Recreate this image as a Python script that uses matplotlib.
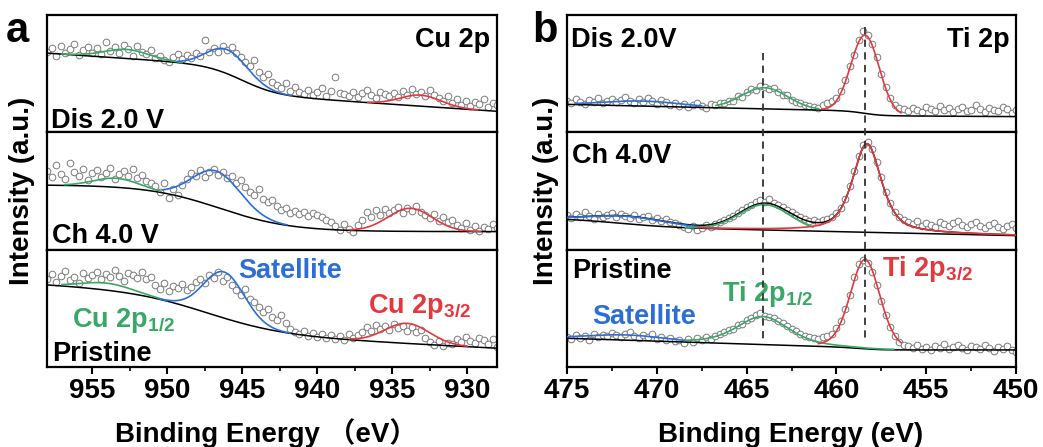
import numpy as np
import matplotlib
matplotlib.use("Agg")
import matplotlib.pyplot as plt
from matplotlib.transforms import blended_transform_factory

# ---------------------------------------------------------------- data
# Cu 2p spectra: 958.0 -> 928.0 eV, Ti 2p spectra: 475.0 -> 450.0 eV
cu_range = [958.0, 928.0]
ti_range = [475.0, 450.0]

cu_dis_counts = [80, 84, 76, 86, 79, 83, 88, 77, 82, 85, 79,
                 84, 78, 90, 81, 85, 79, 87, 83, 76, 86, 80, 78, 82, 74, 76, 72,
                 70, 75, 78, 73, 77, 74, 79, 76, 92, 80,
                 84, 80, 86, 82, 85, 79, 75,
                 70, 66, 72, 60, 55, 58, 50,
                 47, 44, 49, 41, 45, 40,
                 38, 42, 37, 40, 44, 36, 41, 55, 39, 38,
                 36, 40, 35, 39, 42, 37, 34, 40, 38, 36,
                 39, 35, 41, 37, 43, 38, 40, 36, 42, 37,
                 34, 31, 36, 29, 33, 27, 31, 26, 30, 28, 33, 25, 29, 27]
cu_ch_counts = [78, 72, 84, 75, 70, 86, 77, 73, 80, 69, 76,
                79, 72, 76, 81, 70, 75, 78, 73, 80, 71, 74, 68, 66,
                63, 58, 66, 52, 60, 55, 64,
                70, 76, 73, 79, 72, 77,
                80, 74, 77, 71, 73, 66, 69,
                62, 58, 55, 60, 51, 48, 50,
                44, 40, 42, 37, 39, 36,
                38, 34, 37, 35, 33, 30, 28,
                24, 20, 26, 21, 18, 25, 30,
                38, 33, 40, 35, 41, 37,
                40, 43, 37, 42, 39, 44, 38,
                35, 32, 36, 29, 33, 28, 30,
                25, 22, 27, 20, 24, 19, 23, 21, 26, 22]
cu_pri_counts = [88, 93, 85, 91, 96, 87, 90, 84, 94, 89, 92,
                 95, 88, 93, 90, 97, 91, 86, 94, 92, 89, 95, 88, 90,
                 82, 78, 84, 76, 81, 79, 83, 77, 80, 85,
                 88, 84, 92, 89, 95, 86, 90,
                 82, 77, 72, 78, 68, 65,
                 60, 55, 58, 50, 47, 52, 44,
                 38, 35, 33, 36, 31, 34, 30, 33, 29, 32,
                 28, 31, 27, 33, 29, 32, 35,
                 40, 36, 42, 38, 41, 37,
                 43, 39, 41, 36, 40, 35, 37,
                 29, 25, 22, 26, 21, 24, 23,
                 28, 25, 30, 26, 24, 29, 27, 23, 28, 20]

ti_dis_counts = [31, 29, 33, 30, 28, 32, 30, 34, 29,
                 31, 33, 30, 32, 35, 31, 29, 33, 30, 34, 31, 28, 32, 30, 27, 29,
                 26, 28, 25, 27, 29, 26, 24, 28, 27, 29,
                 29, 31, 31, 36, 35, 40, 43, 42, 46, 45, 43, 44, 40, 37, 37, 32,
                 30, 29, 27, 26, 25, 24, 27, 29, 31, 34, 41, 52, 66, 77, 92, 101,
                 97, 88, 75, 58, 45, 34, 27, 24, 23,
                 21, 24, 22, 20, 25, 23, 21, 26, 22, 24, 20, 23, 25, 21, 22, 27,
                 23, 20, 24, 22, 21, 25, 23, 19, 22]
ti_ch_counts = [35, 32, 36, 33, 38, 34, 31, 36, 33,
                35, 37, 33, 36, 34, 32, 35, 31, 33, 34, 30, 32, 29, 31, 28, 27,
                25, 23, 21, 24, 20, 22, 25, 23, 26, 28,
                30, 32, 34, 37, 40, 43, 45, 48, 50, 48, 51, 47, 45, 43, 40, 38,
                35, 33, 31, 29, 30, 28, 30, 31, 33, 37, 42, 51, 63, 78, 93, 104,
                107, 100, 87, 72, 58, 47, 38, 33, 30,
                28, 26, 29, 24, 27, 25, 23, 28, 26, 24, 27, 29, 25, 23, 26, 28,
                24, 22, 25, 27, 23, 21, 24, 26, 22]
ti_pri_counts = [30, 28, 32, 29, 31, 27, 33, 30, 32,
                 31, 34, 32, 30, 33, 35, 31, 29, 32, 30, 33, 28, 30, 27, 29, 26,
                 27, 24, 28, 25, 29, 27, 30, 28, 31, 33,
                 35, 37, 38, 42, 43, 47, 49, 52, 54, 51, 50, 49, 46, 44, 41, 38,
                 36, 33, 31, 30, 29, 28, 30, 31, 33, 39, 46, 58, 72, 90, 103, 107,
                 104, 95, 82, 66, 52, 40, 31, 25, 22,
                 21, 19, 22, 18, 20, 17, 21, 19, 23, 18, 20, 22, 19, 17, 21, 20,
                 18, 22, 19, 16, 20, 18, 21, 17, 15]

# Shirley-like backgrounds: base, slope, E_low, step, E_step, width, step slope
cu_dis_bg = [21.0, 1.00, 928.0, 28.0, 945.0, 1.2, 0.0]
cu_ch_bg = [18.0, 0.00, 928.0, 46.7, 946.5, 2.4, 0.0]
cu_pri_bg = [18.7, 0.76, 928.0, 41.0, 947.3, 2.6, 0.0]
ti_dis_bg = [15.7, 0.10, 450.0, 4.7, 458.4, 0.5, 0.30]
ti_ch_bg = [14.0, 0.40, 450.0, 7.0, 472.0, 1.5, 0.0]
ti_pri_bg = [17.0, 0.00, 450.0, 2.2, 458.4, 0.6, 0.57]

# fitted components: centre, height, FWHM, lorentz fraction, drawn from, drawn to
cu_dis_peaks = {"green": [952.7, 9.0, 3.5, 0.0, 957.0, 949.0],
                "blue": [946.0, 24.0, 3.2, 0.0, 949.3, 941.7],
                "red": [933.1, 11.0, 3.2, 0.0, 936.6, 929.3]}
cu_ch_peaks = {"green": [953.4, 9.0, 3.5, 0.0, 956.8, 950.4],
               "blue": [946.7, 36.0, 3.8, 0.0, 950.3, 942.0],
               "red": [933.8, 23.0, 3.5, 0.0, 937.8, 929.1]}
cu_pri_peaks = {"green": [954.0, 7.0, 4.0, 0.0, 957.0, 950.0],
                "blue": [946.2, 46.0, 3.2, 0.0, 950.5, 941.8],
                "red": [934.0, 20.0, 3.5, 0.0, 937.8, 930.0]}
ti_dis_peaks = {"blue": [470.8, 5.0, 5.0, 0.0, 474.5, 467.5],
                "green": [464.0, 21.0, 3.0, 0.0, 466.7, 461.0],
                "red": [458.4, 78.0, 1.85, 0.0, 460.8, 456.4]}
ti_ch_peaks = {"blue": [471.5, 7.5, 5.0, 0.0, 475.0, 466.5],
               "green": [464.0, 25.4, 3.3, 0.0, 468.4, 461.3],
               "red": [458.3, 88.4, 1.9, 0.6, 467.7, 450.0]}
ti_pri_peaks = {"blue": [471.7, 5.2, 5.0, 0.0, 475.0, 468.4],
                "green": [464.1, 27.9, 3.4, 0.4, 468.4, 456.8],
                "red": [458.4, 89.0, 1.95, 0.2, 461.0, 456.4]}

ti_ref_lines = [464.1, 458.4]

cu_labels = ["Dis 2.0 V", "Ch 4.0 V", "Pristine"]
ti_labels = ["Dis 2.0V", "Ch 4.0V", "Pristine"]
cu_ticks = [955, 950, 945, 940, 935, 930]
ti_ticks = [475, 470, 465, 460, 455, 450]

# ---------------------------------------------------------------- style
plt.rcParams["font.family"] = ["Liberation Sans", "Noto Sans CJK SC", "DejaVu Sans"]
plt.rcParams["font.weight"] = "bold"
plt.rcParams["mathtext.fontset"] = "custom"
plt.rcParams["mathtext.rm"] = "Liberation Sans:bold"
plt.rcParams["mathtext.it"] = "Liberation Sans:bold"
plt.rcParams["mathtext.bf"] = "Liberation Sans:bold"

COL = {"green": "#37a865", "blue": "#2b6fd6", "red": "#e5383d"}
W, H = 1043, 447


def fx(x):
    return x / W


def fy(y):
    return 1 - y / H


def background(E, p):
    base, slope, elo, S, Ec, w, k = p
    sig = 1.0 / (1.0 + np.exp(-(E - Ec) / w))
    return base + slope * (E - elo) + sig * (S + k * (E - Ec))


def pvoigt(E, c, A, F, eta):
    x2 = 4.0 * (E - c) ** 2 / F ** 2
    g = np.exp(-np.log(2.0) * x2)
    lor = 1.0 / (1.0 + x2)
    return A * ((1 - eta) * g + eta * lor)


fig = plt.figure(figsize=(W / 100, H / 100), dpi=100)

top, bottom = fy(15), fy(367)
h = (top - bottom) / 3.0
panels = [
    (fx(47), fx(497) - fx(47), cu_range,
     [cu_dis_counts, cu_ch_counts, cu_pri_counts],
     [cu_dis_bg, cu_ch_bg, cu_pri_bg],
     [cu_dis_peaks, cu_ch_peaks, cu_pri_peaks], cu_ticks),
    (fx(567), fx(1016) - fx(567), ti_range,
     [ti_dis_counts, ti_ch_counts, ti_pri_counts],
     [ti_dis_bg, ti_ch_bg, ti_pri_bg],
     [ti_dis_peaks, ti_ch_peaks, ti_pri_peaks], ti_ticks),
]

axes_all = []
for pi, (left, width, erange, counts, bgs, peaks, ticks) in enumerate(panels):
    axs = []
    for r in range(3):
        ax = fig.add_axes([left, bottom + (2 - r) * h, width, h])
        E = np.linspace(erange[0], erange[1], len(counts[r]))
        ax.plot(E, counts[r], "o", ms=4.8, mfc="white", mec="#7a7a7a",
                mew=0.7, zorder=1)
        Ef = np.linspace(erange[0], erange[1], 1200)
        bgf = background(Ef, bgs[r])
        # envelope (only Ti Ch 4.0V shows it)
        if pi == 1 and r == 1:
            env = bgf.copy()
            for p in peaks[r].values():
                env = env + pvoigt(Ef, p[0], p[1], p[2], p[3])
            ax.plot(Ef, env, color="black", lw=1.1, zorder=3)
        for name, p in peaks[r].items():
            Es = np.linspace(p[4], p[5], 400)
            ax.plot(Es, background(Es, bgs[r]) + pvoigt(Es, p[0], p[1], p[2], p[3]),
                    color=COL[name], lw=1.2, zorder=4)
        ax.plot(Ef, bgf, color="black", lw=1.1, zorder=3.5)
        ax.set_xlim(erange[0], erange[1])
        ax.set_ylim(0, 117)
        ax.set_yticks([])
        for s in ax.spines.values():
            s.set_linewidth(1.6)
        if r < 2:
            ax.set_xticks([])
        else:
            ax.set_xticks(ticks)
            ax.set_xticks(np.array(ticks[:-1]) - 2.5 * np.sign(ticks[0] - ticks[-1]),
                          minor=True)
            ax.tick_params(axis="x", which="major", direction="out", length=5,
                           width=1.5, labelsize=20, pad=3)
            ax.tick_params(axis="x", which="minor", direction="out", length=3,
                           width=1.2)
            ax.tick_params(axis="y", which="both", left=False)
        axs.append(ax)
    axes_all.append(axs)

# dashed reference lines across Ti panels
tr = blended_transform_factory(axes_all[1][2].transData, fig.transFigure)
for xv, y0 in zip(ti_ref_lines, [53, 27]):
    fig.add_artist(plt.Line2D([xv, xv], [fy(y0), fy(342)], transform=tr,
                              color="#333333", lw=1.3, ls=(0, (4, 3)), zorder=5))

# ---------------------------------------------------------------- texts
fs = 19.5
# panel letters
fig.text(fx(6), fy(42), "a", fontsize=30, ha="left", va="baseline")
fig.text(fx(532), fy(42), "b", fontsize=30, ha="left", va="baseline")
# Cu panel
fig.text(fx(490), fy(47), "Cu 2p", fontsize=fs, ha="right", va="baseline")
fig.text(fx(51), fy(128), cu_labels[0], fontsize=fs, ha="left", va="baseline")
fig.text(fx(52), fy(243), cu_labels[1], fontsize=fs, ha="left", va="baseline")
fig.text(fx(52), fy(361), cu_labels[2], fontsize=fs, ha="left", va="baseline")
fig.text(fx(238), fy(278), "Satellite", fontsize=fs, color=COL["blue"],
         ha="left", va="baseline")
fig.text(fx(72), fy(327), r"Cu 2p$_{1/2}$", fontsize=fs, color=COL["green"],
         ha="left", va="baseline")
fig.text(fx(368), fy(313), r"Cu 2p$_{3/2}$", fontsize=fs, color=COL["red"],
         ha="left", va="baseline")
# Ti panel
fig.text(fx(1010), fy(47), "Ti 2p", fontsize=fs, ha="right", va="baseline")
fig.text(fx(571), fy(47), ti_labels[0], fontsize=fs, ha="left", va="baseline")
fig.text(fx(572), fy(163), ti_labels[1], fontsize=fs, ha="left", va="baseline")
fig.text(fx(572), fy(278), ti_labels[2], fontsize=fs, ha="left", va="baseline")
fig.text(fx(722), fy(301), r"Ti 2p$_{1/2}$", fontsize=fs, color=COL["green"],
         ha="left", va="baseline")
fig.text(fx(592), fy(324), "Satellite", fontsize=fs, color=COL["blue"],
         ha="left", va="baseline")
fig.text(fx(882), fy(276), r"Ti 2p$_{3/2}$", fontsize=fs, color=COL["red"],
         ha="left", va="baseline")
# axis labels
fig.text(fx(266), fy(442), "Binding Energy （eV）", fontsize=20, ha="center",
         va="baseline")
fig.text(fx(791), fy(442), "Binding Energy (eV)", fontsize=20, ha="center",
         va="baseline")
fig.text(fx(22), fy(191), "Intensity (a.u.)", fontsize=20, rotation=90,
         ha="center", va="center")
fig.text(fx(546), fy(191), "Intensity (a.u.)", fontsize=20, rotation=90,
         ha="center", va="center")

fig.savefig("out.png", dpi=100)
